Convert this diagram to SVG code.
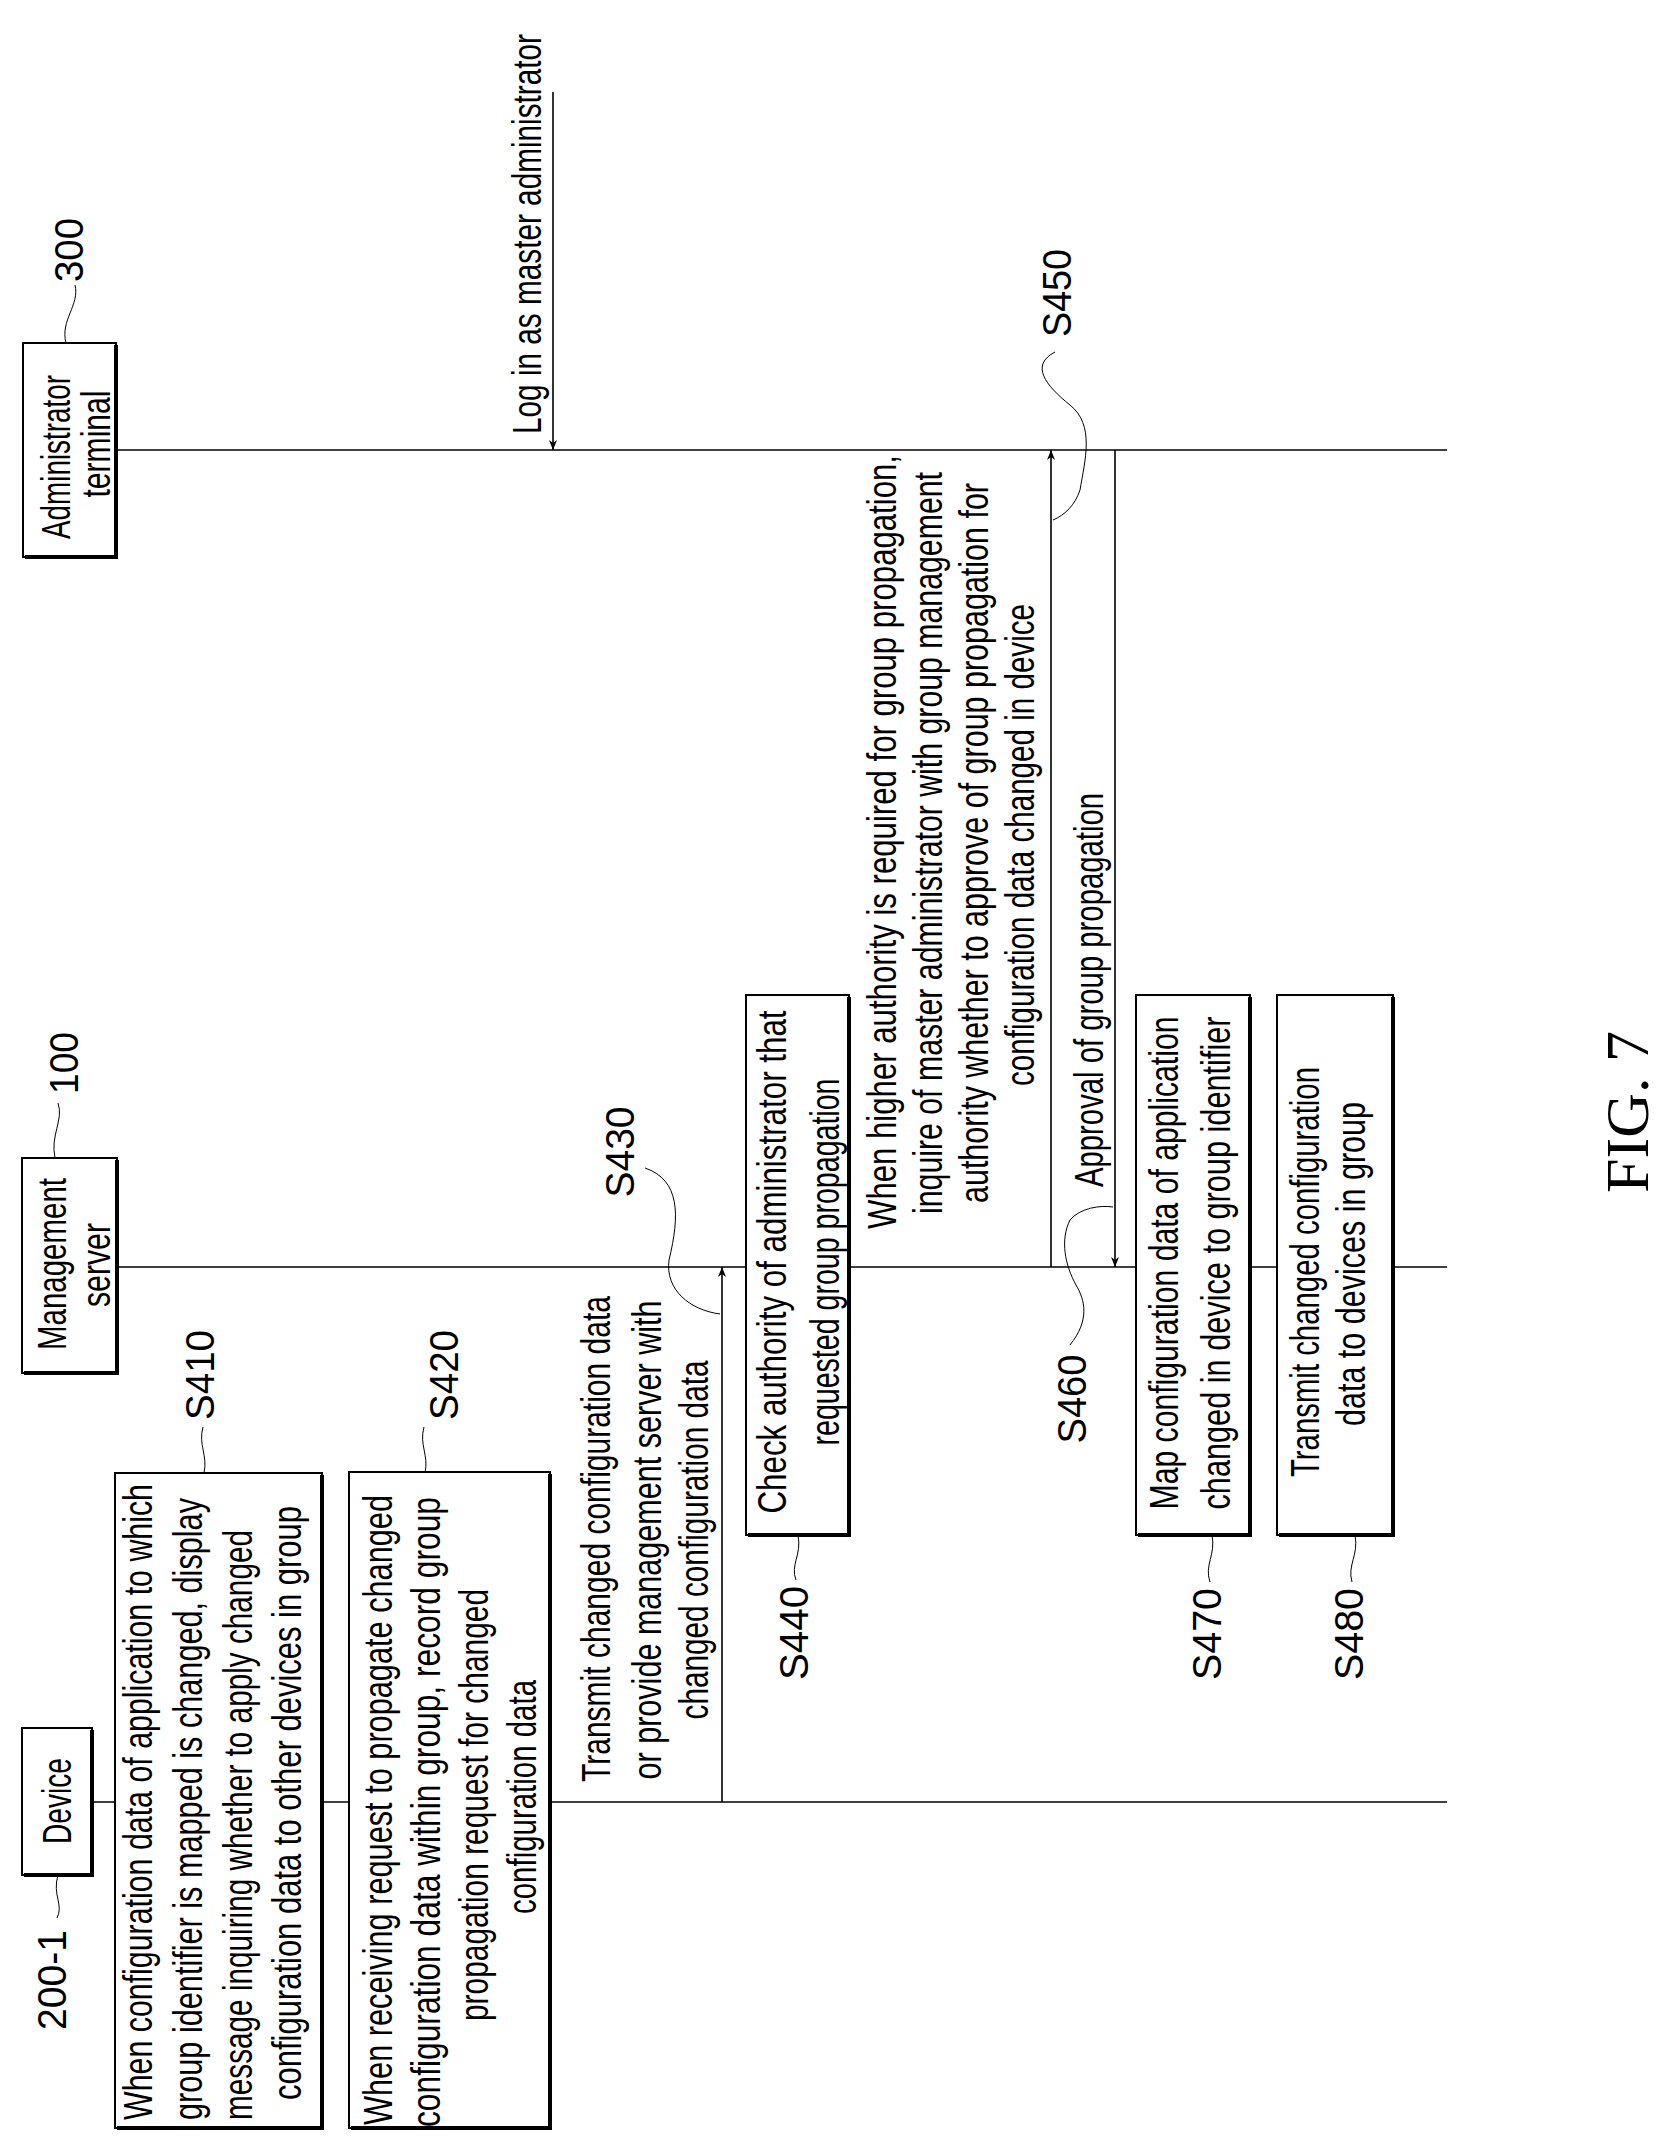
<svg xmlns="http://www.w3.org/2000/svg" width="1670" height="2153" viewBox="0 0 1670 2153">
<style>
.t{font-family:"Liberation Sans Narrow","Liberation Sans",Arial,sans-serif;font-size:40px;fill:#000;text-anchor:middle;dominant-baseline:central}
.s{text-anchor:start}
.box{fill:#fff;stroke:#000;stroke-width:2}
.sh{fill:none;stroke:#000;stroke-width:4}
.ln{fill:none;stroke:#000;stroke-width:1.6}
.ld{fill:none;stroke:#000;stroke-width:1}
.fig{font-family:"Liberation Serif","Times New Roman",serif;font-size:62px;text-anchor:middle;dominant-baseline:central}
</style>
<defs>
<marker id="ah" viewBox="0 0 10 10" refX="10" refY="5" markerWidth="10" markerHeight="10" markerUnits="userSpaceOnUse" orient="auto"><path d="M0,1 L10,5 L0,9 L3,5 Z" fill="#000"/></marker>
</defs>
<rect width="1670" height="2153" fill="#fff"/>
<g id="connectors">
<path class="ln" d="M116,450 H1447"/>
<path class="ln" d="M117,1267 H746 M849,1267 H1136 M1250,1267 H1277 M1393,1267 H1447"/>
<path class="ln" d="M92,1802 H115 M322,1802 H349 M550,1802 H1447"/>
<path class="ln" d="M553,92 V450" marker-end="url(#ah)"/>
<path class="ln" d="M722,1802 V1267" marker-end="url(#ah)"/>
<path class="ln" d="M1051,1267 V450" marker-end="url(#ah)"/>
<path class="ln" d="M1115,450 V1267" marker-end="url(#ah)"/>
<path class="ld" d="M66,343 C60,320 80,305 75,285"/>
<path class="ld" d="M55,1158 C50,1135 64,1120 58,1103"/>
<path class="ld" d="M58,1875 C52,1895 64,1905 57,1918"/>
<path class="ld" d="M204,1473 C208,1455 198,1445 203,1427"/>
<path class="ld" d="M425,1473 C429,1455 419,1445 424,1427"/>
<path class="ld" d="M645,1168 C680,1180 680,1215 669,1260 C665,1290 690,1310 720,1314"/>
<path class="ld" d="M798,1535 C802,1555 790,1565 796,1580"/>
<path class="ld" d="M1055,352 C1030,365 1045,385 1070,405 C1095,425 1085,460 1080,490 C1075,505 1065,515 1053,520"/>
<path class="ld" d="M1070,1345 C1090,1320 1085,1300 1076,1285 C1065,1265 1060,1240 1070,1220 C1080,1208 1100,1205 1113,1207"/>
<path class="ld" d="M1212,1535 C1216,1555 1204,1565 1210,1582"/>
<path class="ld" d="M1355,1535 C1359,1555 1347,1565 1352,1582"/>
<text class="t" transform="translate(527,234) rotate(-90)" textLength="400" lengthAdjust="spacingAndGlyphs">Log in as master administrator</text>
</g>
<g id="admin">
<rect class="box" x="23" y="343" width="93" height="214"/><path class="sh" d="M116,345 V557 H25"/>
<text class="t" transform="translate(56,457) rotate(-90)" textLength="164" lengthAdjust="spacingAndGlyphs">Administrator</text>
<text class="t" transform="translate(96,444) rotate(-90)" textLength="107" lengthAdjust="spacingAndGlyphs">terminal</text>
<text class="t" transform="translate(69,250) rotate(-90)" textLength="64" lengthAdjust="spacingAndGlyphs">300</text>
</g>
<g id="server">
<rect class="box" x="22" y="1158" width="95" height="215"/><path class="sh" d="M117,1160 V1373 H24"/>
<text class="t" transform="translate(52,1264) rotate(-90)" textLength="172" lengthAdjust="spacingAndGlyphs">Management</text>
<text class="t" transform="translate(96,1265) rotate(-90)" textLength="84" lengthAdjust="spacingAndGlyphs">server</text>
<text class="t" transform="translate(64,1063) rotate(-90)" textLength="62" lengthAdjust="spacingAndGlyphs">100</text>
</g>
<g id="device">
<rect class="box" x="22" y="1728" width="70" height="147"/><path class="sh" d="M92,1730 V1875 H24"/>
<text class="t" transform="translate(57,1801) rotate(-90)" textLength="86" lengthAdjust="spacingAndGlyphs">Device</text>
<text class="t" transform="translate(52,1980) rotate(-90)" textLength="100" lengthAdjust="spacingAndGlyphs">200-1</text>
</g>
<g id="s410">
<rect class="box" x="115" y="1473" width="207" height="655"/><path class="sh" d="M322,1475 V2128 H117"/>
<text class="t s" transform="translate(138,2120) rotate(-90)" textLength="636" lengthAdjust="spacingAndGlyphs">When configuration data of application to which</text>
<text class="t s" transform="translate(188,2120) rotate(-90)" textLength="622" lengthAdjust="spacingAndGlyphs">group identifier is mapped is changed, display</text>
<text class="t s" transform="translate(238,2120) rotate(-90)" textLength="590" lengthAdjust="spacingAndGlyphs">message inquiring whether to apply changed</text>
<text class="t s" transform="translate(287,2100) rotate(-90)" textLength="594" lengthAdjust="spacingAndGlyphs">configuration data to other devices in group</text>
<text class="t" transform="translate(200,1375) rotate(-90)" textLength="90" lengthAdjust="spacingAndGlyphs">S410</text>
</g>
<g id="s420">
<rect class="box" x="349" y="1472" width="201" height="656"/><path class="sh" d="M550,1474 V2128 H351"/>
<text class="t" transform="translate(378,1810) rotate(-90)" textLength="630" lengthAdjust="spacingAndGlyphs">When receiving request to propagate changed</text>
<text class="t" transform="translate(426,1812) rotate(-90)" textLength="630" lengthAdjust="spacingAndGlyphs">configuration data within group, record group</text>
<text class="t" transform="translate(474,1805) rotate(-90)" textLength="432" lengthAdjust="spacingAndGlyphs">propagation request for changed</text>
<text class="t" transform="translate(522,1797) rotate(-90)" textLength="234" lengthAdjust="spacingAndGlyphs">configuration data</text>
<text class="t" transform="translate(444,1375) rotate(-90)" textLength="90" lengthAdjust="spacingAndGlyphs">S420</text>
</g>
<g id="s430">
<text class="t" transform="translate(596,1539) rotate(-90)" textLength="486" lengthAdjust="spacingAndGlyphs">Transmit changed configuration data</text>
<text class="t" transform="translate(647,1540) rotate(-90)" textLength="479" lengthAdjust="spacingAndGlyphs">or provide management server with</text>
<text class="t" transform="translate(694,1540) rotate(-90)" textLength="359" lengthAdjust="spacingAndGlyphs">changed configuration data</text>
<text class="t" transform="translate(620,1152) rotate(-90)" textLength="91" lengthAdjust="spacingAndGlyphs">S430</text>
</g>
<g id="s440">
<rect class="box" x="746" y="995" width="103" height="540"/><path class="sh" d="M849,997 V1535 H748"/>
<text class="t" transform="translate(772,1262) rotate(-90)" textLength="503" lengthAdjust="spacingAndGlyphs">Check authority of administrator that</text>
<text class="t" transform="translate(825,1262) rotate(-90)" textLength="367" lengthAdjust="spacingAndGlyphs">requested group propagation</text>
<text class="t" transform="translate(794,1633) rotate(-90)" textLength="94" lengthAdjust="spacingAndGlyphs">S440</text>
</g>
<g id="s450">
<text class="t" transform="translate(882,842) rotate(-90)" textLength="774" lengthAdjust="spacingAndGlyphs">When higher authority is required for group propagation,</text>
<text class="t" transform="translate(928,843) rotate(-90)" textLength="742" lengthAdjust="spacingAndGlyphs">inquire of master administrator with group management</text>
<text class="t" transform="translate(974,843) rotate(-90)" textLength="720" lengthAdjust="spacingAndGlyphs">authority whether to approve of group propagation for</text>
<text class="t" transform="translate(1020,845) rotate(-90)" textLength="482" lengthAdjust="spacingAndGlyphs">configuration data changed in device</text>
<text class="t" transform="translate(1057,293) rotate(-90)" textLength="88" lengthAdjust="spacingAndGlyphs">S450</text>
</g>
<g id="s460">
<text class="t" transform="translate(1089,990) rotate(-90)" textLength="394" lengthAdjust="spacingAndGlyphs">Approval of group propagation</text>
<text class="t" transform="translate(1072,1399) rotate(-90)" textLength="89" lengthAdjust="spacingAndGlyphs">S460</text>
</g>
<g id="s470">
<rect class="box" x="1136" y="995" width="114" height="540"/><path class="sh" d="M1250,997 V1535 H1138"/>
<text class="t" transform="translate(1164,1263) rotate(-90)" textLength="493" lengthAdjust="spacingAndGlyphs">Map configuration data of application</text>
<text class="t" transform="translate(1216,1263) rotate(-90)" textLength="493" lengthAdjust="spacingAndGlyphs">changed in device to group identifier</text>
<text class="t" transform="translate(1207,1634) rotate(-90)" textLength="92" lengthAdjust="spacingAndGlyphs">S470</text>
</g>
<g id="s480">
<rect class="box" x="1277" y="995" width="116" height="540"/><path class="sh" d="M1393,997 V1535 H1279"/>
<text class="t" transform="translate(1305,1272) rotate(-90)" textLength="410" lengthAdjust="spacingAndGlyphs">Transmit changed configuration</text>
<text class="t" transform="translate(1351,1264) rotate(-90)" textLength="324" lengthAdjust="spacingAndGlyphs">data to devices in group</text>
<text class="t" transform="translate(1349,1634) rotate(-90)" textLength="92" lengthAdjust="spacingAndGlyphs">S480</text>
</g>
<g id="fig">
<text class="fig" transform="translate(1627,1112) rotate(-90)">FIG. 7</text>
</g>
</svg>
